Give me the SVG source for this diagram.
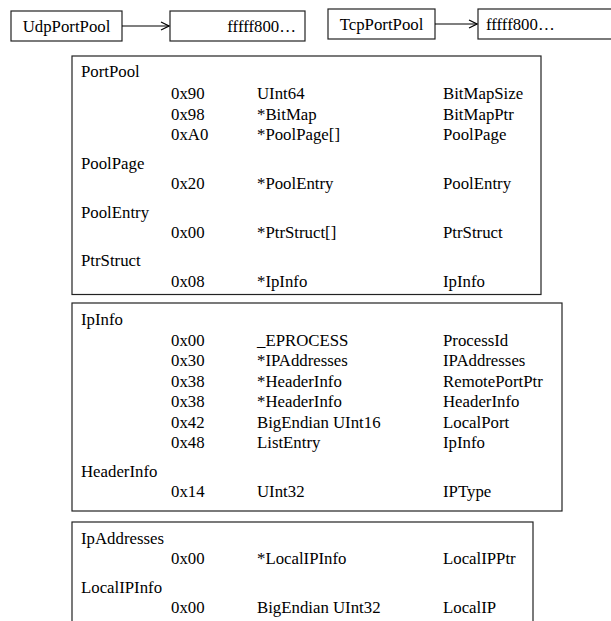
<svg xmlns="http://www.w3.org/2000/svg" width="611" height="621" viewBox="0 0 611 621">
<defs>
<marker id="arr" markerWidth="10" markerHeight="10" refX="9" refY="5" orient="auto" markerUnits="userSpaceOnUse">
<path d="M1,1 L9,5 L1,9" fill="none" stroke="#000" stroke-width="1.2"/>
</marker>
</defs>
<style>
text{font-family:"Liberation Serif","Times New Roman",serif;font-size:16.8px;fill:#000}
.box{fill:#fff;stroke:#222;stroke-width:1.2}
.conn{stroke:#000;stroke-width:1.2;fill:none}
.mid{text-anchor:middle}
.end{text-anchor:end}
</style>
<rect width="611" height="621" fill="#fff"/>
<g id="udp"><rect class="box" x="11" y="11" width="111" height="30"/><text class="mid" x="66.5" y="31.5">UdpPortPool</text></g>
<g id="udpval"><rect class="box" x="170" y="11" width="135" height="30"/><text class="end" x="296" y="31.5">fffff800…</text></g>
<g id="tcp"><rect class="box" x="328" y="9" width="107" height="30"/><text class="mid" x="381.5" y="29.5">TcpPortPool</text></g>
<g id="tcpval"><rect class="box" x="478" y="9" width="140" height="30"/><text x="486" y="29.5">fffff800…</text></g>
<g id="connectors">
<line class="conn" x1="122" y1="26" x2="169" y2="26" marker-end="url(#arr)"/>
<line class="conn" x1="435" y1="24" x2="477" y2="24" marker-end="url(#arr)"/>
</g>
<g id="portpool">
<rect class="box" x="72" y="56" width="469" height="238.5"/>
<text x="81" y="77">PortPool</text>
<text x="171" y="99">0x90</text><text x="257" y="99">UInt64</text><text x="443" y="99">BitMapSize</text>
<text x="171" y="119.5">0x98</text><text x="257" y="119.5">*BitMap</text><text x="443" y="119.5">BitMapPtr</text>
<text x="171" y="140">0xA0</text><text x="257" y="140">*PoolPage[]</text><text x="443" y="140">PoolPage</text>
<text x="81" y="168.5">PoolPage</text>
<text x="171" y="189">0x20</text><text x="257" y="189">*PoolEntry</text><text x="443" y="189">PoolEntry</text>
<text x="81" y="217.5">PoolEntry</text>
<text x="171" y="238">0x00</text><text x="257" y="238">*PtrStruct[]</text><text x="443" y="238">PtrStruct</text>
<text x="81" y="266">PtrStruct</text>
<text x="171" y="286.5">0x08</text><text x="257" y="286.5">*IpInfo</text><text x="443" y="286.5">IpInfo</text>
</g>
<g id="ipinfo">
<rect class="box" x="72" y="303" width="490" height="208"/>
<text x="81" y="325">IpInfo</text>
<text x="171" y="345.5">0x00</text><text x="257" y="345.5">_EPROCESS</text><text x="443" y="345.5">ProcessId</text>
<text x="171" y="366">0x30</text><text x="257" y="366">*IPAddresses</text><text x="443" y="366">IPAddresses</text>
<text x="171" y="386.5">0x38</text><text x="257" y="386.5">*HeaderInfo</text><text x="443" y="386.5">RemotePortPtr</text>
<text x="171" y="407">0x38</text><text x="257" y="407">*HeaderInfo</text><text x="443" y="407">HeaderInfo</text>
<text x="171" y="427.5">0x42</text><text x="257" y="427.5">BigEndian UInt16</text><text x="443" y="427.5">LocalPort</text>
<text x="171" y="448">0x48</text><text x="257" y="448">ListEntry</text><text x="443" y="448">IpInfo</text>
<text x="81" y="476.5">HeaderInfo</text>
<text x="171" y="497">0x14</text><text x="257" y="497">UInt32</text><text x="443" y="497">IPType</text>
</g>
<g id="ipaddresses">
<rect class="box" x="72" y="522" width="461" height="110"/>
<text x="81" y="543.5">IpAddresses</text>
<text x="171" y="564">0x00</text><text x="257" y="564">*LocalIPInfo</text><text x="443" y="564">LocalIPPtr</text>
<text x="81" y="592.5">LocalIPInfo</text>
<text x="171" y="613">0x00</text><text x="257" y="613">BigEndian UInt32</text><text x="443" y="613">LocalIP</text>
</g>
</svg>
